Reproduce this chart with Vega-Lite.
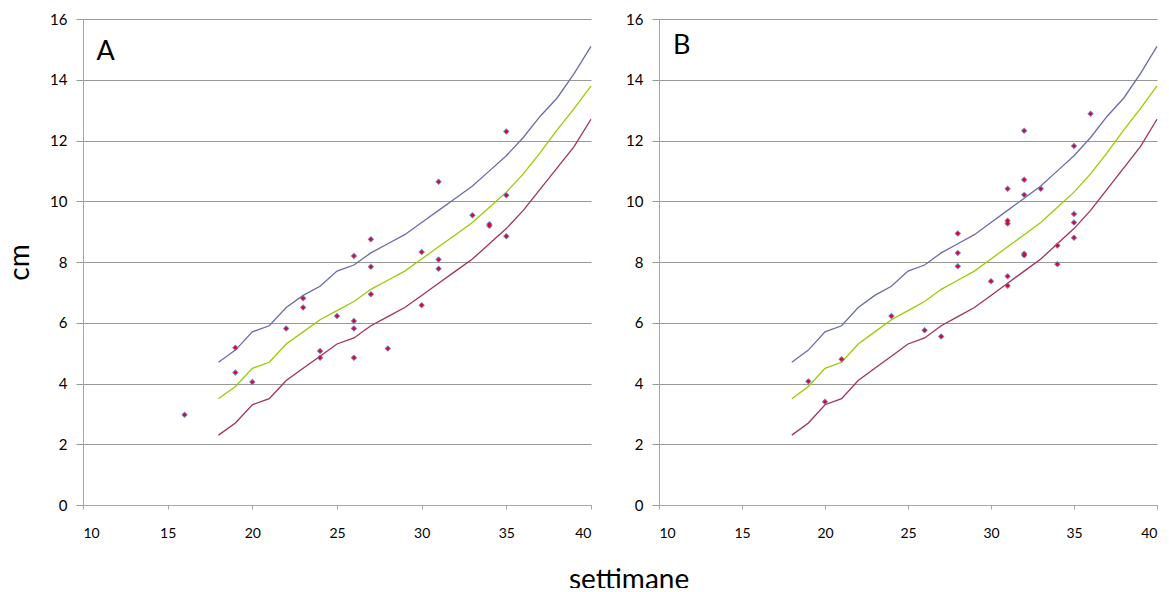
{
  "$schema": "https://vega.github.io/schema/vega-lite/v6.json",
  "padding": {"left": 6, "top": 12, "right": 0, "bottom": -7},
  "background": "white",
  "config": {
    "font": "Lato",
    "view": {"stroke": null},
    "concat": {"spacing": 31},
    "axisY": {
      "grid": true, "gridColor": "#999999", "gridWidth": 1,
      "tickColor": "#999999", "tickSize": 7, "labelPadding": 9,
      "labelFontSize": 15, "labelColor": "#000000", "labelFont": "Lato",
      "domainColor": "#a6a6a6",
      "titleFontSize": 28, "titleFontWeight": "normal", "titleColor": "#000000", "titleFont": "Lato", "titlePadding": 15
    },
    "axisX": {
      "grid": false, "tickSize": 4, "tickColor": "#a6a6a6", "domainColor": "#a6a6a6",
      "labelPadding": 17, "labelFontSize": 14, "labelColor": "#000000", "labelFont": "Lato",
      "title": null
    }
  },
  "title": {"text": "settimane", "orient": "bottom", "anchor": "middle", "fontSize": 28, "fontWeight": "normal", "font": "Lato", "color": "#000000", "offset": 27, "dx": 46},
  "datasets": {
    "curves": [
      {"w": 18, "s": "alto", "cm": 4.7}, {"w": 19, "s": "alto", "cm": 5.1}, {"w": 20, "s": "alto", "cm": 5.7}, {"w": 21, "s": "alto", "cm": 5.9},
      {"w": 22, "s": "alto", "cm": 6.5}, {"w": 23, "s": "alto", "cm": 6.9}, {"w": 24, "s": "alto", "cm": 7.2}, {"w": 25, "s": "alto", "cm": 7.7},
      {"w": 26, "s": "alto", "cm": 7.9}, {"w": 27, "s": "alto", "cm": 8.3}, {"w": 28, "s": "alto", "cm": 8.6}, {"w": 29, "s": "alto", "cm": 8.9},
      {"w": 30, "s": "alto", "cm": 9.3}, {"w": 31, "s": "alto", "cm": 9.7}, {"w": 32, "s": "alto", "cm": 10.1}, {"w": 33, "s": "alto", "cm": 10.5},
      {"w": 34, "s": "alto", "cm": 11.0}, {"w": 35, "s": "alto", "cm": 11.5}, {"w": 36, "s": "alto", "cm": 12.1}, {"w": 37, "s": "alto", "cm": 12.8},
      {"w": 38, "s": "alto", "cm": 13.4}, {"w": 39, "s": "alto", "cm": 14.2}, {"w": 40, "s": "alto", "cm": 15.1},
      {"w": 18, "s": "medio", "cm": 3.5}, {"w": 19, "s": "medio", "cm": 3.9}, {"w": 20, "s": "medio", "cm": 4.5}, {"w": 21, "s": "medio", "cm": 4.7},
      {"w": 22, "s": "medio", "cm": 5.3}, {"w": 23, "s": "medio", "cm": 5.7}, {"w": 24, "s": "medio", "cm": 6.1}, {"w": 25, "s": "medio", "cm": 6.4},
      {"w": 26, "s": "medio", "cm": 6.7}, {"w": 27, "s": "medio", "cm": 7.1}, {"w": 28, "s": "medio", "cm": 7.4}, {"w": 29, "s": "medio", "cm": 7.7},
      {"w": 30, "s": "medio", "cm": 8.1}, {"w": 31, "s": "medio", "cm": 8.5}, {"w": 32, "s": "medio", "cm": 8.9}, {"w": 33, "s": "medio", "cm": 9.3},
      {"w": 34, "s": "medio", "cm": 9.8}, {"w": 35, "s": "medio", "cm": 10.3}, {"w": 36, "s": "medio", "cm": 10.9}, {"w": 37, "s": "medio", "cm": 11.6},
      {"w": 38, "s": "medio", "cm": 12.35}, {"w": 39, "s": "medio", "cm": 13.05}, {"w": 40, "s": "medio", "cm": 13.8},
      {"w": 18, "s": "basso", "cm": 2.3}, {"w": 19, "s": "basso", "cm": 2.7}, {"w": 20, "s": "basso", "cm": 3.3}, {"w": 21, "s": "basso", "cm": 3.5},
      {"w": 22, "s": "basso", "cm": 4.1}, {"w": 23, "s": "basso", "cm": 4.5}, {"w": 24, "s": "basso", "cm": 4.9}, {"w": 25, "s": "basso", "cm": 5.3},
      {"w": 26, "s": "basso", "cm": 5.5}, {"w": 27, "s": "basso", "cm": 5.9}, {"w": 28, "s": "basso", "cm": 6.2}, {"w": 29, "s": "basso", "cm": 6.5},
      {"w": 30, "s": "basso", "cm": 6.9}, {"w": 31, "s": "basso", "cm": 7.3}, {"w": 32, "s": "basso", "cm": 7.7}, {"w": 33, "s": "basso", "cm": 8.1},
      {"w": 34, "s": "basso", "cm": 8.6}, {"w": 35, "s": "basso", "cm": 9.1}, {"w": 36, "s": "basso", "cm": 9.7}, {"w": 37, "s": "basso", "cm": 10.4},
      {"w": 38, "s": "basso", "cm": 11.1}, {"w": 39, "s": "basso", "cm": 11.8}, {"w": 40, "s": "basso", "cm": 12.7}
    ],
    "pts": [
      {"p": "A", "w": 16, "cm": 2.97}, {"p": "A", "w": 19, "cm": 5.18}, {"p": "A", "w": 19, "cm": 4.36}, {"p": "A", "w": 20, "cm": 4.05},
      {"p": "A", "w": 22, "cm": 5.81}, {"p": "A", "w": 23, "cm": 6.81}, {"p": "A", "w": 23, "cm": 6.5}, {"p": "A", "w": 24, "cm": 5.07},
      {"p": "A", "w": 24, "cm": 4.85}, {"p": "A", "w": 25, "cm": 6.22}, {"p": "A", "w": 26, "cm": 8.2}, {"p": "A", "w": 26, "cm": 6.06},
      {"p": "A", "w": 26, "cm": 5.81}, {"p": "A", "w": 26, "cm": 4.85}, {"p": "A", "w": 27, "cm": 8.75}, {"p": "A", "w": 27, "cm": 7.84},
      {"p": "A", "w": 27, "cm": 6.94}, {"p": "A", "w": 28, "cm": 5.15}, {"p": "A", "w": 30, "cm": 8.33}, {"p": "A", "w": 30, "cm": 6.58},
      {"p": "A", "w": 31, "cm": 10.64}, {"p": "A", "w": 31, "cm": 8.08}, {"p": "A", "w": 31, "cm": 7.78}, {"p": "A", "w": 33, "cm": 9.54},
      {"p": "A", "w": 34, "cm": 9.24}, {"p": "A", "w": 34, "cm": 9.19}, {"p": "A", "w": 35, "cm": 12.3}, {"p": "A", "w": 35, "cm": 10.2},
      {"p": "A", "w": 35, "cm": 8.85},
      {"p": "B", "w": 19, "cm": 4.07}, {"p": "B", "w": 20, "cm": 3.4}, {"p": "B", "w": 21, "cm": 4.8}, {"p": "B", "w": 24, "cm": 6.22},
      {"p": "B", "w": 26, "cm": 5.75}, {"p": "B", "w": 27, "cm": 5.55}, {"p": "B", "w": 28, "cm": 8.94}, {"p": "B", "w": 28, "cm": 8.3},
      {"p": "B", "w": 28, "cm": 7.86}, {"p": "B", "w": 30, "cm": 7.37}, {"p": "B", "w": 31, "cm": 10.41}, {"p": "B", "w": 31, "cm": 9.36},
      {"p": "B", "w": 31, "cm": 9.27}, {"p": "B", "w": 31, "cm": 7.53}, {"p": "B", "w": 31, "cm": 7.22}, {"p": "B", "w": 32, "cm": 12.32},
      {"p": "B", "w": 32, "cm": 10.71}, {"p": "B", "w": 32, "cm": 10.21}, {"p": "B", "w": 32, "cm": 8.27}, {"p": "B", "w": 32, "cm": 8.22},
      {"p": "B", "w": 33, "cm": 10.41}, {"p": "B", "w": 34, "cm": 8.54}, {"p": "B", "w": 34, "cm": 7.93}, {"p": "B", "w": 35, "cm": 11.82},
      {"p": "B", "w": 35, "cm": 9.58}, {"p": "B", "w": 35, "cm": 9.3}, {"p": "B", "w": 35, "cm": 8.8}, {"p": "B", "w": 36, "cm": 12.88}
    ],
    "labels": [{"p": "A", "t": "A"}, {"p": "B", "t": "B"}]
  },
  "hconcat": [
    {
      "width": 508, "height": 486,
      "layer": [
        {
          "data": {"name": "curves"},
          "mark": {"type": "line", "strokeWidth": 1.3},
          "encoding": {
            "x": {"field": "w", "type": "quantitative", "scale": {"domain": [10, 40], "nice": false, "zero": false}, "axis": {"values": [10, 15, 20, 25, 30, 35, 40]}},
            "y": {"field": "cm", "type": "quantitative", "scale": {"domain": [0, 16], "nice": false}, "axis": {"title": "cm", "values": [0, 2, 4, 6, 8, 10, 12, 14, 16]}},
            "color": {"field": "s", "type": "nominal", "scale": {"domain": ["alto", "medio", "basso"], "range": ["#6b6bab", "#99cc00", "#a3305f"]}, "legend": null}
          }
        },
        {
          "data": {"name": "pts"},
          "transform": [{"filter": "datum.p == 'A'"}],
          "mark": {"type": "point", "shape": "diamond", "filled": true, "size": 42, "color": "#7676b8", "opacity": 1},
          "encoding": {"x": {"field": "w", "type": "quantitative"}, "y": {"field": "cm", "type": "quantitative"}}
        },
        {
          "data": {"name": "pts"},
          "transform": [{"filter": "datum.p == 'A'"}],
          "mark": {"type": "point", "shape": "circle", "filled": true, "size": 10, "color": "#e4002b", "opacity": 1},
          "encoding": {"x": {"field": "w", "type": "quantitative"}, "y": {"field": "cm", "type": "quantitative"}}
        },
        {
          "data": {"name": "labels"},
          "transform": [{"filter": "datum.p == 'A'"}],
          "mark": {"type": "text", "align": "left", "baseline": "middle", "fontSize": 27, "font": "Lato", "color": "#000000"},
          "encoding": {"x": {"datum": 10.8}, "y": {"datum": 14.9}, "text": {"field": "t"}}
        }
      ]
    },
    {
      "width": 498, "height": 486,
      "layer": [
        {
          "data": {"name": "curves"},
          "mark": {"type": "line", "strokeWidth": 1.3},
          "encoding": {
            "x": {"field": "w", "type": "quantitative", "scale": {"domain": [10, 40], "nice": false, "zero": false}, "axis": {"values": [10, 15, 20, 25, 30, 35, 40]}},
            "y": {"field": "cm", "type": "quantitative", "scale": {"domain": [0, 16], "nice": false}, "axis": {"title": null, "values": [0, 2, 4, 6, 8, 10, 12, 14, 16]}},
            "color": {"field": "s", "type": "nominal", "scale": {"domain": ["alto", "medio", "basso"], "range": ["#6b6bab", "#99cc00", "#a3305f"]}, "legend": null}
          }
        },
        {
          "data": {"name": "pts"},
          "transform": [{"filter": "datum.p == 'B'"}],
          "mark": {"type": "point", "shape": "diamond", "filled": true, "size": 42, "color": "#7676b8", "opacity": 1},
          "encoding": {"x": {"field": "w", "type": "quantitative"}, "y": {"field": "cm", "type": "quantitative"}}
        },
        {
          "data": {"name": "pts"},
          "transform": [{"filter": "datum.p == 'B'"}],
          "mark": {"type": "point", "shape": "circle", "filled": true, "size": 10, "color": "#e4002b", "opacity": 1},
          "encoding": {"x": {"field": "w", "type": "quantitative"}, "y": {"field": "cm", "type": "quantitative"}}
        },
        {
          "data": {"name": "labels"},
          "transform": [{"filter": "datum.p == 'B'"}],
          "mark": {"type": "text", "align": "left", "baseline": "middle", "fontSize": 27, "font": "Lato", "color": "#000000"},
          "encoding": {"x": {"datum": 10.85}, "y": {"datum": 15.1}, "text": {"field": "t"}}
        }
      ]
    }
  ]
}
